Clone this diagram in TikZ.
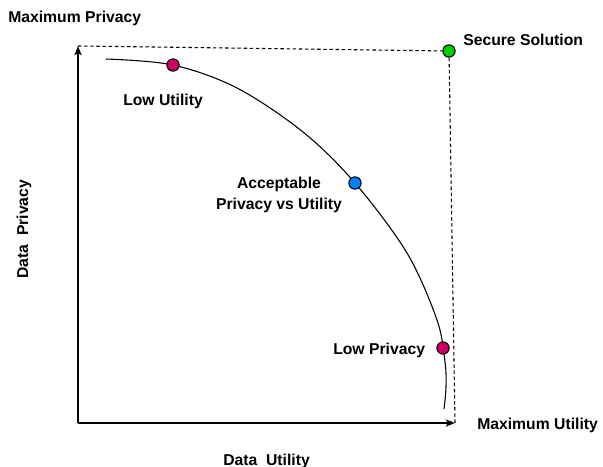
\documentclass[tikz,border=0pt]{standalone}
\usepackage{fontspec}
\setmainfont{Liberation Sans}
\usetikzlibrary{arrows.meta}
\definecolor{lowpt}{HTML}{CC0066}
\definecolor{midpt}{HTML}{007FFF}
\definecolor{bestpt}{HTML}{00CC00}
\tikzset{
  lbl/.style={inner sep=0pt, font=\fontsize{11.8}{15.5}\selectfont\bfseries},
  axis/.style={line width=1pt, -{Stealth[length=7pt, width=5.5pt, inset=1.8pt]}},
  guide/.style={line width=0.8pt, dash pattern=on 2.6pt off 2pt},
  dot/.style={circle, draw=black, line width=0.8pt, minimum size=9.2pt, inner sep=0pt},
  front/.style={line width=0.8pt}
}
\begin{document}
\begin{tikzpicture}[x=0.75pt, y=-0.75pt]
  \useasboundingbox (0,0) rectangle (603,467);

  % axes
  \coordinate (o) at (78,423);
  \coordinate (ytop) at (78,46);
  \coordinate (xend) at (455,423);
  \draw[axis] (o) -- (ytop);
  \draw[axis] (o) -- (xend);

  % ideal point and its guide lines
  \node[dot, fill=bestpt] (secure) at (449,51) {};
  \draw[guide] (ytop) -- (secure);
  \draw[guide] (secure) -- (xend);

  % privacy / utility trade-off front
  \draw[front] plot[smooth, tension=0.55] coordinates {
    (106,59) (173,65) (237,88) (303,132) (355,183) (407,253)
    (437,320) (445,362) (446,387) (444,409)};

  \node[dot, fill=lowpt] (lowu) at (173,65) {};
  \node[dot, fill=midpt] (acc) at (355,183) {};
  \node[dot, fill=lowpt] (lowp) at (443,348) {};

  % labels
  \node[lbl, anchor=base west] (maxp) at (8,23) {Maximum Privacy};
  \node[lbl, anchor=base west] (sec) at (463,46) {Secure Solution};
  \node[lbl, anchor=base west] (lowutxt) at (123,105) {Low Utility};
  \node[lbl, align=center] (acctxt) at (279,195) {Acceptable\\Privacy vs Utility};
  \node[lbl, anchor=base west] (lowptxt) at (333,354) {Low Privacy};
  \node[lbl, anchor=base west] (maxu) at (477,429) {Maximum Utility};
  \node[lbl, anchor=base west, rotate=90] (dp) at (28,279) {Data\ \ Privacy};
  \node[lbl, anchor=base west] (du) at (223,465) {Data\ \ Utility};
\end{tikzpicture}
\end{document}
